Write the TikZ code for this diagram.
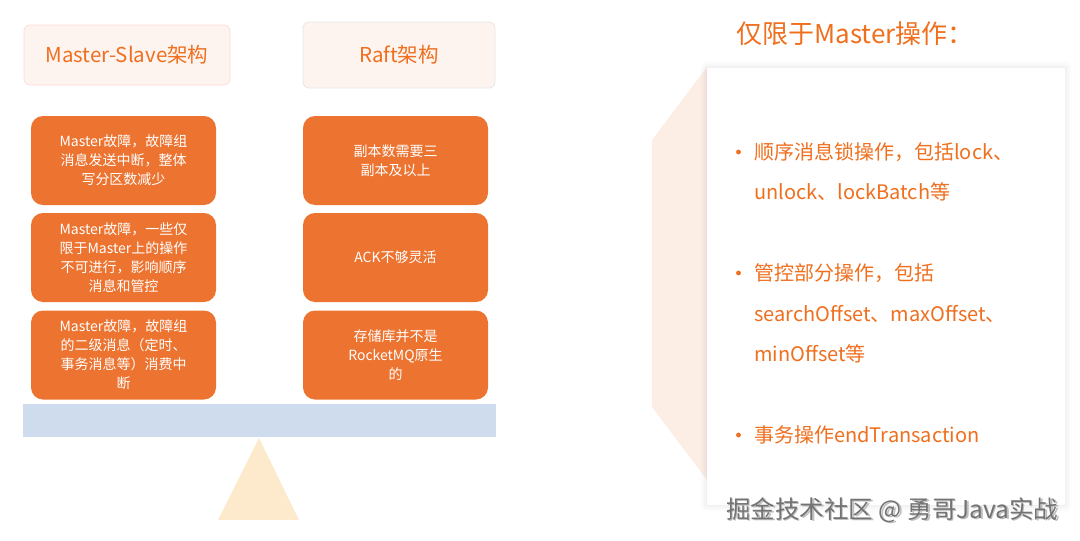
\documentclass[tikz,border=0pt]{standalone}
\usepackage{fontspec}
\setmainfont{Noto Sans CJK SC}
\usetikzlibrary{shadows.blur}
\definecolor{boxorange}{HTML}{EC7330}
\definecolor{textorange}{HTML}{EF6F1E}
\definecolor{headfill}{HTML}{FDF4F0}
\definecolor{beamblue}{HTML}{CFDCEE}
\definecolor{pivot}{HTML}{FDE9CC}
\definecolor{sidepink}{HTML}{FCEDE5}
\begin{document}
\begin{tikzpicture}[x=1pt,y=-1pt,line join=round,
	headbox/.style={draw=#1,fill=headfill,rounded corners=6pt,line width=0.7pt,text=textorange,font=\fontsize{20.5}{24}\selectfont},
	issue/.style={fill=boxorange,rounded corners=12pt,minimum width=185pt,minimum height=89pt,text=white,align=center,font=\fontsize{14}{19}\selectfont},
	item/.style={anchor=west,text=textorange,align=left,font=\fontsize{20}{40.5}\selectfont,inner sep=0pt}]
	\useasboundingbox (0,0) rectangle (1080,541);
	% headers
	\node[headbox=red!15,minimum width=206pt,minimum height=60pt] (ms) at (127,55) {Master-Slave架构};
	\node[headbox=black!10,minimum width=192pt,minimum height=66pt] (raft) at (399,55) {Raft架构};
	% left column
	\node[issue] (l1) at (123.5,160.5) {Master故障，故障组\\消息发送中断，整体\\写分区数减少};
	\node[issue] (l2) at (123.5,257.5) {Master故障，一些仅\\限于Master上的操作\\不可进行，影响顺序\\消息和管控};
	\node[issue] (l3) at (123.5,355) {Master故障，故障组\\的二级消息（定时、\\事务消息等）消费中\\断};
	% right column
	\node[issue] (r1) at (395.5,160.5) {副本数需要三\\副本及以上};
	\node[issue] (r2) at (395.5,257.5) {ACK不够灵活};
	\node[issue] (r3) at (395.5,355) {存储库并不是\\RocketMQ原生\\的};
	% beam and pivot
	\fill[beamblue] (23,404) rectangle (496,437);
	\fill[pivot] (259,438) -- (299,520) -- (218,520) -- cycle;
	% right panel
	\fill[sidepink] (707,67) -- (652,140) -- (652,407) -- (707,480) -- cycle;
	\fill[white,blur shadow={shadow xshift=0pt,shadow yshift=0pt,shadow blur radius=7pt,shadow opacity=12}] (707,68) rectangle (1065,505);
	\node[anchor=west,text=textorange,font=\fontsize{26}{30}\selectfont] (title) at (733,34) {仅限于Master操作：};
	\node[item] (b1) at (754,172) {顺序消息锁操作，包括lock、\\unlock、lockBatch等};
	\node[item] (b2) at (754,313.5) {管控部分操作，包括\\searchOffset、maxOffset、\\minOffset等};
	\node[item] (b3) at (754,435) {事务操作endTransaction};
	\foreach \y in {152,273,435}
		\fill[textorange] (738.5,\y) circle (2.4pt);
	% watermark
	\node[anchor=east,text=black!25,font=\fontsize{24.5}{26}\selectfont] at (1063.5,511.5) {掘金技术社区 @ 勇哥Java实战};
	\node[anchor=east,text=black!55,font=\fontsize{24.5}{26}\selectfont] (mark) at (1062,510) {掘金技术社区 @ 勇哥Java实战};
\end{tikzpicture}
\end{document}
